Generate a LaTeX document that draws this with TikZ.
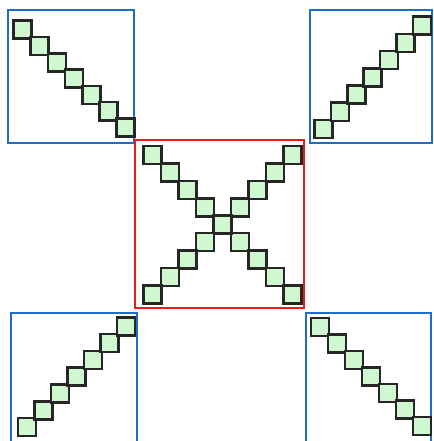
\documentclass[tikz,border=0pt]{standalone}
\definecolor{boxblue}{RGB}{28,110,200}
\definecolor{boxred}{RGB}{240,25,25}
\definecolor{cellgreen}{RGB}{208,248,208}
\begin{document}
\begin{tikzpicture}[x=1pt,y=-1pt,
  frameblue/.style={draw=boxblue,line width=2.6pt},
  framered/.style={draw=boxred,line width=2.6pt},
  cell/.style={draw=black!85,fill=cellgreen,line width=2.6pt}]
\useasboundingbox (0,0) rectangle (433,441);
\clip (0,0) rectangle (433,441);
% top-left block
\draw[frameblue] (8,10) rectangle (134,143);
\foreach \i in {0,...,6}
  \draw[cell] ({13.5+17.2*\i},{20.7+16.3*\i}) rectangle ++(18,18);
% top-right block
\draw[frameblue] (310,10) rectangle (432,143);
\foreach \i in {0,...,6}
  \draw[cell] ({314.5+16.4*\i},{120-17.2*\i}) rectangle ++(18,18);
% bottom-left block
\draw[frameblue] (11,313) rectangle (137,447);
\foreach \i in {0,...,6}
  \draw[cell] ({18+16.5*\i},{418-16.8*\i}) rectangle ++(18,18);
% bottom-right block
\draw[frameblue] (306,313) rectangle (431,447);
\foreach \i in {0,...,6}
  \draw[cell] ({311+17*\i},{318+16.5*\i}) rectangle ++(18,18);
% centre block
\draw[framered] (135,140) rectangle (304,308);
\foreach \i in {0,...,8}
  \draw[cell] ({143.5+17.5*\i},{146+17.4*\i}) rectangle ++(18,18);
\foreach \i in {0,...,8}
  \draw[cell] ({283.5-17.5*\i},{146+17.4*\i}) rectangle ++(18,18);
\end{tikzpicture}
\end{document}
